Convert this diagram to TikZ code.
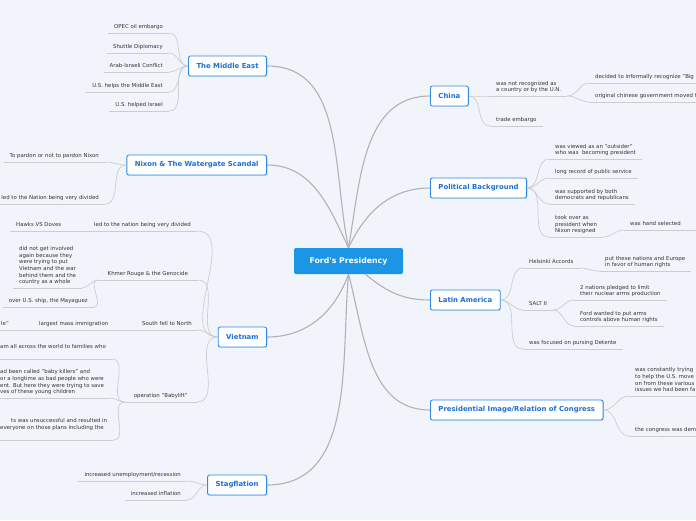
\documentclass[tikz,border=0pt]{standalone}
\usepackage{fontspec}
\setmainfont{DejaVu Sans}
\usetikzlibrary{shadows}
\definecolor{bgcol}{RGB}{242,244,252}
\definecolor{rootblue}{RGB}{27,150,230}
\definecolor{topicline}{RGB}{46,138,230}
\definecolor{topictext}{RGB}{29,111,214}
\definecolor{leaftext}{RGB}{52,52,52}
\definecolor{mainlink}{RGB}{178,178,178}
\definecolor{leaflink}{RGB}{205,205,205}
\begin{document}
\begin{tikzpicture}[
  x=1pt, y=-1pt,
  root/.style={fill=rootblue, rounded corners=2pt, text=white, font=\bfseries\fontsize{7.8}{9}\selectfont, minimum width=109pt, minimum height=26pt},
  topic/.style={draw=topicline, line width=0.9pt, fill=white, rounded corners=2pt, text=topictext, font=\bfseries\fontsize{6.9}{8}\selectfont, minimum height=20pt, inner xsep=8pt, drop shadow={opacity=0.2, shadow xshift=0.7pt, shadow yshift=-0.9pt}},
  leaf/.style={text=leaftext, font=\fontsize{5.4}{6.7}\selectfont, align=left, inner xsep=6pt, inner ysep=2.5pt, text depth=1.4pt},
  leftleaf/.style={leaf, anchor=south east},
  rightleaf/.style={leaf, anchor=south west},
  main/.style={draw=mainlink, line width=1.1pt},
  link/.style={draw=leaflink, line width=0.7pt},
  under/.style={draw=leaflink, line width=0.7pt}
]
\useasboundingbox (0,0) rectangle (696,520);
\clip (0,0) rectangle (696,520);
\fill[bgcol] (0,0) rectangle (696,520);

\node[root] (ford) at (348.5,261) {Ford\textquotesingle s Presidency};

\node[topic, anchor=east] (mideast) at (267,66) {The Middle East};
\node[topic, anchor=east] (nixon) at (267,165) {Nixon \& The Watergate Scandal};
\node[topic, anchor=east] (vietnam) at (267,337) {Vietnam};
\node[topic, anchor=east] (stag) at (267,485) {Stagflation};
\node[topic, anchor=west] (china) at (430,96) {China};
\node[topic, anchor=west] (polit) at (430,188) {Political Background};
\node[topic, anchor=west] (latin) at (430,300) {Latin America};
\node[topic, anchor=west] (image) at (430,410) {Presidential Image/Relation of Congress};

\node[leftleaf] (opec) at (169,33) {OPEC oil embargo};
\node[leftleaf] (shuttle) at (169,53) {Shuttle Diplomacy};
\node[leftleaf] (arab) at (169,72) {Arab-Israeli Conflict};
\node[leftleaf] (ushelps) at (169,92) {U.S. helps the Middle East};
\node[leftleaf] (ushelped) at (169,111) {U.S. helped Israel};

\node[leftleaf] (pardon) at (105,162) {To pardon or not to pardon Nixon};
\node[leftleaf] (natdiv) at (105,204) {led to the Nation being very divided};

\node[leftleaf] (vnatdiv) at (197,231) {led to the nation being very divided};
\node[rightleaf] (hawks) at (10,231) {Hawks VS Doves};
\node[leftleaf, minimum width=100pt] (khmer) at (198,280) {Khmer Rouge \& the Genocide};
\node[rightleaf] (noinv) at (13,288) {did not get involved\\again because they\\were trying to put\\Vietnam and the war\\behind them and the\\country as a whole};
\node[leftleaf] (mayaguez) at (94,307) {over U.S. ship, the Mayaguez};
\node[leftleaf] (south) at (198,330) {South fell to North};
\node[rightleaf] (mass) at (33,330) {largest mass immigration};
\node[leftleaf] (boatppl) at (15,330) {le"};
\node[leftleaf, minimum width=72pt] (baby) at (197,402) {operation "Babylift"};
\node[rightleaf] (families) at (-6,359) {am all across the world to families who\\~};
\node[rightleaf] (killers) at (-6,398) {ad been called "baby killers" and\\or a longtime as bad people who were\\ent. But here they were trying to save\\ves of these young children};
\node[rightleaf] (failed) at (-6,440) {\hspace*{11pt}ts was unsuccessful and resulted in\\everyone on those plans including the\\~};

\node[leftleaf] (unemp) at (187,481) {increased unemployment/recession};
\node[leftleaf] (infl) at (187,500) {increased inflation};

\node[rightleaf] (notrec) at (490,96) {was not recognized as\\a country or by the U.N.};
\node[rightleaf, text width=120pt] (decided) at (589,83) {decided to informally recognize "Big};
\node[rightleaf, text width=120pt] (origchin) at (589,102) {original chinese government moved t};
\node[rightleaf] (trade) at (490,126) {trade embargo};

\node[rightleaf] (outsider) at (549,159) {was viewed as an "outsider"\\who was\ \ becoming president};
\node[rightleaf] (record) at (549,178) {long record of public service};
\node[rightleaf] (bipart) at (549,204) {was supported by both\\democrats and republicans};
\node[rightleaf] (tookover) at (549,237) {took over as\\president when\\Nixon resigned};
\node[rightleaf, text width=80pt] (handsel) at (624,230) {was hand selected};

\node[rightleaf] (helsinki) at (523,268) {Helsinki Accords};
\node[rightleaf] (nations) at (599,271) {put these nations and Europe\\in favor of human rights};
\node[rightleaf] (salt) at (523,310) {SALT II};
\node[rightleaf] (pledged) at (574,300) {2 nations pledged to limit\\their nuclear arms production};
\node[rightleaf] (armsctl) at (574,326) {Ford wanted to put arms\\controls above human rights};
\node[rightleaf] (detente) at (523,349) {was focused on pursing Detente};

\node[rightleaf] (trying) at (629,396) {was constantly trying\\to help the U.S. move\\on from these various\\issues we had been fa};
\node[rightleaf, text width=80pt] (congress) at (629,436) {the congress was dem};

\foreach \n in {opec,shuttle,arab,ushelps,ushelped,pardon,natdiv,vnatdiv,hawks,khmer,noinv,mayaguez,south,mass,boatppl,baby,families,killers,failed,unemp,infl,notrec,decided,origchin,trade,outsider,record,bipart,tookover,handsel,helsinki,nations,salt,pledged,armsctl,detente,trying,congress}
  \draw[under] (\n.south west) -- (\n.south east);

\draw[main] (mideast.east) to[out=0,in=102] (ford.north);
\draw[main] (nixon.east) to[out=0,in=115] (ford.north);
\draw[main] (ford.north) to[out=80,in=180] (china.west);
\draw[main] (ford.north) to[out=65,in=180] (polit.west);
\draw[main] (ford.south) to[out=250,in=0] (vietnam.east);
\draw[main] (ford.south) to[out=265,in=0] (stag.east);
\draw[main] ([xshift=17pt]ford.south) to[out=-40,in=180] (latin.west);
\draw[main] (ford.south) to[out=285,in=180] (image.west);

\draw[link] (opec.south east) to[out=0,in=180] (mideast.west);
\draw[link] (shuttle.south east) to[out=0,in=180] (mideast.west);
\draw[link] (arab.south east) to[out=0,in=180] (mideast.west);
\draw[link] (ushelps.south east) to[out=0,in=180] (mideast.west);
\draw[link] (ushelped.south east) to[out=0,in=180] (mideast.west);

\draw[link] (pardon.south east) to[out=0,in=180] (nixon.west);
\draw[link] (natdiv.south east) to[out=0,in=180] (nixon.west);

\draw[link] (vnatdiv.south east) to[out=0,in=180] (vietnam.west);
\draw[link] (khmer.south east) to[out=0,in=180] (vietnam.west);
\draw[link] (south.south east) to[out=0,in=180] (vietnam.west);
\draw[link] (baby.south east) to[out=0,in=180] (vietnam.west);
\draw[link] (hawks.south east) -- (vnatdiv.south west);
\draw[link] (noinv.south east) to[out=0,in=180] (khmer.south west);
\draw[link] (mayaguez.south east) to[out=0,in=180] (khmer.south west);
\draw[link] (boatppl.south east) -- (mass.south west);
\draw[link] (mass.south east) -- (south.south west);
\draw[link] (families.south east) to[out=0,in=180] (baby.south west);
\draw[link] (killers.south east) to[out=0,in=180] (baby.south west);
\draw[link] (failed.south east) to[out=0,in=180] (baby.south west);

\draw[link] (unemp.south east) to[out=0,in=180] (stag.west);
\draw[link] (infl.south east) to[out=0,in=180] (stag.west);

\draw[link] (china.east) to[out=0,in=180] (notrec.south west);
\draw[link] (china.east) to[out=0,in=180] (trade.south west);
\draw[link] (notrec.south east) to[out=0,in=180] (decided.south west);
\draw[link] (notrec.south east) to[out=0,in=180] (origchin.south west);

\draw[link] (polit.east) to[out=0,in=180] (outsider.south west);
\draw[link] (polit.east) to[out=0,in=180] (record.south west);
\draw[link] (polit.east) to[out=0,in=180] (bipart.south west);
\draw[link] (polit.east) to[out=0,in=180] (tookover.south west);
\draw[link] (tookover.south east) to[out=0,in=180] (handsel.south west);

\draw[link] (latin.east) to[out=0,in=180] (helsinki.south west);
\draw[link] (latin.east) to[out=0,in=180] (salt.south west);
\draw[link] (latin.east) to[out=0,in=180] (detente.south west);
\draw[link] (helsinki.south east) to[out=0,in=180] (nations.south west);
\draw[link] (salt.south east) to[out=0,in=180] (pledged.south west);
\draw[link] (salt.south east) to[out=0,in=180] (armsctl.south west);

\draw[link] (image.east) to[out=0,in=180] (trying.south west);
\draw[link] (image.east) to[out=0,in=180] (congress.south west);
\end{tikzpicture}
\end{document}
